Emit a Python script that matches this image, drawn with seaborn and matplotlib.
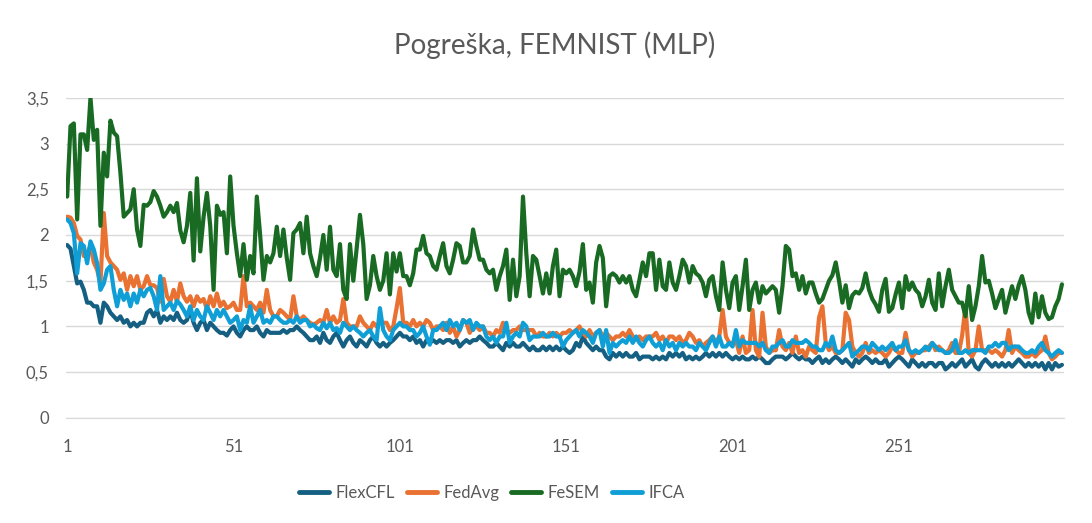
import pandas as pd
import seaborn as sns
import matplotlib.pyplot as plt

# loss per round (rounds 1..300)
flexcfl = [
    1.89, 1.85, 1.66, 1.47, 1.49, 1.40, 1.26, 1.26, 1.22, 1.22, 1.04, 1.26, 1.22, 1.15, 1.11, 1.07, 1.11, 1.04, 1.07, 1.00, 1.04, 1.00, 1.04, 1.04,
    1.15, 1.18, 1.11, 1.18, 1.04, 1.11, 1.07, 1.11, 1.07, 1.15, 1.07, 1.04, 1.07, 1.18, 1.04, 0.96, 1.04, 1.07, 0.96, 1.04, 1.00, 0.96, 0.93, 0.93, 0.90,
    0.96, 1.00, 0.93, 0.89, 0.96, 1.00, 0.96, 0.96, 1.00, 0.93, 0.89, 0.96, 0.93, 0.93, 0.93, 0.93, 0.96, 0.93, 0.96, 0.96, 1.00, 0.96, 0.93, 0.89, 0.85,
    0.85, 0.89, 0.82, 0.93, 0.85, 0.82, 0.89, 0.93, 0.85, 0.78, 0.85, 0.89, 0.82, 0.78, 0.85, 0.82, 0.78, 0.85, 0.89, 0.82, 0.78, 0.82, 0.78, 0.82, 0.85, 0.89,
    0.93, 0.89, 0.89, 0.85, 0.89, 0.82, 0.85, 0.78, 0.85, 0.82, 0.85, 0.82, 0.85, 0.82, 0.85, 0.85, 0.82, 0.85, 0.78, 0.82, 0.85, 0.82, 0.85, 0.85, 0.89,
    0.85, 0.82, 0.78, 0.78, 0.82, 0.78, 0.74, 0.82, 0.78, 0.82, 0.78, 0.78, 0.82, 0.78, 0.74, 0.78, 0.74, 0.74, 0.78, 0.74, 0.78, 0.74, 0.78, 0.74, 0.78,
    0.74, 0.71, 0.74, 0.82, 0.78, 0.89, 0.82, 0.78, 0.74, 0.78, 0.74, 0.74, 0.67, 0.64, 0.71, 0.67, 0.71, 0.67, 0.71, 0.67, 0.67, 0.71, 0.64, 0.67, 0.67, 0.67,
    0.64, 0.67, 0.64, 0.67, 0.64, 0.71, 0.67, 0.71, 0.67, 0.71, 0.64, 0.67, 0.64, 0.67, 0.64, 0.67, 0.71, 0.67, 0.71, 0.67, 0.71, 0.67, 0.71, 0.67, 0.64,
    0.67, 0.64, 0.67, 0.64, 0.64, 0.67, 0.64, 0.67, 0.64, 0.60, 0.60, 0.64, 0.67, 0.67, 0.67, 0.64, 0.67, 0.71, 0.67, 0.64, 0.67, 0.64, 0.64, 0.60, 0.64, 0.67,
    0.60, 0.64, 0.60, 0.64, 0.67, 0.64, 0.60, 0.64, 0.60, 0.56, 0.64, 0.60, 0.64, 0.67, 0.64, 0.60, 0.64, 0.60, 0.60, 0.64, 0.56, 0.60, 0.64, 0.67, 0.64,
    0.60, 0.56, 0.64, 0.60, 0.56, 0.60, 0.56, 0.60, 0.60, 0.56, 0.60, 0.60, 0.53, 0.56, 0.60, 0.56, 0.60, 0.64, 0.56, 0.60, 0.64, 0.56, 0.53, 0.60, 0.64,
    0.60, 0.56, 0.60, 0.56, 0.60, 0.56, 0.60, 0.56, 0.60, 0.64, 0.60, 0.56, 0.60, 0.56, 0.60, 0.56, 0.60, 0.53, 0.60, 0.53, 0.60, 0.56, 0.58,
]

fedavg = [
    2.20, 2.19, 2.13, 1.99, 1.95, 1.77, 1.80, 1.88, 1.70, 1.62, 1.47, 2.24, 1.77, 1.70, 1.66, 1.62, 1.51, 1.58, 1.40, 1.55, 1.44, 1.55, 1.40, 1.44,
    1.55, 1.45, 1.45, 1.42, 1.27, 1.52, 1.33, 1.27, 1.40, 1.27, 1.47, 1.33, 1.27, 1.33, 1.22, 1.33, 1.27, 1.30, 1.19, 1.33, 1.22, 1.36, 1.22, 1.27, 1.20,
    1.22, 1.26, 1.18, 1.18, 1.55, 1.22, 1.26, 1.22, 1.18, 1.26, 1.15, 1.40, 1.18, 1.11, 1.11, 1.18, 1.15, 1.11, 1.07, 1.33, 1.11, 1.07, 1.11, 1.07, 1.04,
    1.02, 1.04, 1.07, 1.04, 1.18, 1.04, 1.11, 1.04, 1.07, 1.30, 1.04, 1.00, 1.00, 1.00, 1.11, 1.04, 1.00, 0.96, 1.04, 1.00, 1.04, 1.04, 1.04, 0.96, 1.00, 1.20,
    1.42, 1.04, 1.04, 1.00, 1.07, 1.00, 1.04, 1.00, 1.07, 1.04, 0.96, 1.00, 1.00, 0.96, 1.04, 0.93, 1.00, 0.89, 0.96, 1.07, 1.04, 0.93, 1.00, 1.00, 0.96,
    1.00, 0.93, 0.93, 0.89, 0.96, 0.93, 1.04, 0.96, 0.93, 0.96, 0.96, 1.00, 0.96, 0.96, 0.96, 0.96, 0.89, 0.93, 0.89, 0.89, 0.93, 0.89, 0.93, 0.89, 0.93,
    0.93, 0.96, 0.93, 0.96, 1.00, 0.93, 0.89, 0.96, 0.89, 0.93, 0.96, 0.89, 0.93, 0.89, 0.85, 0.89, 0.89, 0.93, 0.89, 0.96, 0.89, 0.85, 0.89, 0.85, 0.89, 0.89,
    0.89, 0.93, 0.85, 0.89, 0.82, 0.89, 0.89, 0.85, 0.89, 0.82, 0.85, 0.93, 0.89, 0.82, 0.85, 0.78, 0.82, 0.85, 0.89, 0.82, 0.89, 1.18, 0.89, 0.82, 0.82,
    0.85, 0.71, 0.89, 0.71, 0.74, 1.18, 0.74, 0.67, 1.15, 0.78, 0.71, 0.74, 0.74, 0.96, 0.78, 0.74, 0.82, 0.71, 0.89, 0.71, 0.74, 0.67, 0.78, 0.74, 0.71, 1.10,
    1.22, 0.82, 0.74, 0.78, 0.71, 0.71, 0.74, 1.15, 1.07, 0.78, 0.71, 0.67, 0.71, 0.82, 0.71, 0.74, 0.71, 0.74, 0.71, 0.67, 0.71, 0.78, 0.74, 0.71, 0.71,
    0.93, 0.74, 0.67, 0.71, 0.71, 0.74, 0.74, 0.78, 0.82, 0.74, 0.78, 0.74, 0.71, 0.74, 0.82, 0.71, 0.71, 0.90, 1.22, 0.71, 0.67, 0.74, 1.00, 0.74, 0.74,
    0.74, 0.71, 0.74, 0.71, 0.67, 0.74, 0.96, 0.71, 0.78, 0.74, 0.71, 0.67, 0.67, 0.71, 0.67, 0.71, 0.74, 0.89, 0.71, 0.64, 0.67, 0.71, 0.71,
]

fesem = [
    2.42, 3.19, 3.22, 2.17, 3.10, 3.10, 2.93, 3.50, 3.04, 3.15, 2.10, 2.90, 2.64, 3.25, 3.12, 3.08, 2.68, 2.20, 2.24, 2.28, 2.50, 2.06, 1.88, 2.33,
    2.32, 2.36, 2.48, 2.42, 2.32, 2.20, 2.25, 2.32, 2.25, 2.35, 2.05, 1.92, 2.10, 2.46, 1.72, 2.62, 1.82, 2.20, 2.46, 2.10, 1.40, 2.32, 2.22, 2.25, 1.80,
    2.64, 2.10, 1.80, 1.55, 1.90, 1.51, 1.77, 1.58, 2.42, 2.00, 1.51, 1.77, 1.70, 1.80, 2.09, 1.77, 2.06, 1.75, 1.51, 2.02, 2.06, 2.13, 1.80, 2.20, 1.80,
    1.66, 1.55, 1.75, 2.00, 1.62, 2.09, 1.62, 1.55, 1.90, 1.40, 1.30, 1.90, 1.50, 1.85, 2.22, 1.90, 1.30, 1.45, 1.77, 1.55, 1.40, 1.50, 1.80, 1.35, 1.80, 1.60,
    1.80, 1.55, 1.55, 1.45, 1.58, 1.84, 1.84, 1.99, 1.80, 1.77, 1.66, 1.62, 1.77, 1.91, 1.66, 1.58, 1.73, 1.91, 1.88, 1.70, 1.70, 1.77, 2.06, 1.88, 1.73,
    1.73, 1.62, 1.58, 1.62, 1.40, 1.55, 1.66, 1.84, 1.29, 1.73, 1.33, 1.55, 2.42, 1.80, 1.33, 1.77, 1.73, 1.55, 1.36, 1.58, 1.36, 1.66, 1.84, 1.33, 1.62,
    1.58, 1.62, 1.55, 1.44, 1.60, 1.90, 1.40, 1.48, 1.26, 1.70, 1.88, 1.75, 1.22, 1.55, 1.58, 1.55, 1.48, 1.55, 1.48, 1.55, 1.40, 1.33, 1.51, 1.70, 1.55, 1.80,
    1.80, 1.40, 1.73, 1.44, 1.40, 1.70, 1.48, 1.40, 1.55, 1.73, 1.66, 1.48, 1.66, 1.58, 1.55, 1.48, 1.33, 1.51, 1.55, 1.33, 1.18, 1.70, 1.40, 1.20, 1.48,
    1.55, 1.18, 1.44, 1.73, 1.18, 1.40, 1.48, 1.26, 1.44, 1.36, 1.40, 1.44, 1.40, 1.15, 1.44, 1.88, 1.84, 1.55, 1.58, 1.40, 1.55, 1.36, 1.48, 1.48, 1.36, 1.26,
    1.30, 1.40, 1.50, 1.56, 1.70, 1.50, 1.26, 1.45, 1.20, 1.34, 1.38, 1.36, 1.42, 1.58, 1.40, 1.30, 1.24, 1.16, 1.40, 1.52, 1.16, 1.20, 1.35, 1.48, 1.20,
    1.55, 1.40, 1.48, 1.40, 1.36, 1.22, 1.33, 1.51, 1.26, 1.18, 1.58, 1.22, 1.44, 1.62, 1.40, 1.33, 1.26, 1.26, 1.11, 1.44, 1.07, 1.22, 1.44, 1.77, 1.48,
    1.50, 1.36, 1.20, 1.30, 1.40, 1.15, 1.30, 1.44, 1.30, 1.45, 1.55, 1.40, 1.15, 1.04, 1.36, 1.10, 1.33, 1.15, 1.08, 1.10, 1.22, 1.30, 1.46,
]

ifca = [
    2.17, 2.13, 2.02, 1.58, 1.91, 1.88, 1.69, 1.93, 1.84, 1.69, 1.40, 1.47, 1.62, 1.66, 1.40, 1.22, 1.40, 1.29, 1.36, 1.22, 1.36, 1.26, 1.40, 1.33,
    1.40, 1.42, 1.33, 1.18, 1.55, 1.18, 1.22, 1.26, 1.18, 1.28, 1.24, 1.18, 1.11, 1.22, 1.07, 1.18, 1.11, 1.07, 1.22, 1.15, 1.07, 1.18, 1.11, 1.18, 1.11,
    1.04, 1.07, 1.11, 0.96, 1.07, 1.04, 1.22, 1.04, 1.11, 1.18, 1.04, 1.07, 1.04, 1.11, 1.11, 1.07, 1.04, 1.04, 1.07, 1.04, 1.11, 1.04, 1.07, 1.07, 1.00,
    1.02, 0.98, 0.96, 1.04, 0.98, 1.04, 0.96, 0.98, 0.93, 1.04, 1.00, 0.96, 1.00, 0.96, 0.93, 0.89, 0.93, 0.96, 0.89, 0.85, 1.20, 0.96, 0.89, 0.85, 0.96, 1.00,
    1.04, 1.00, 1.00, 0.96, 0.96, 0.89, 0.93, 1.00, 0.89, 0.80, 0.96, 0.96, 1.00, 1.04, 0.96, 1.07, 1.00, 1.04, 0.96, 1.07, 1.04, 1.07, 0.96, 1.04, 1.00,
    1.00, 0.89, 0.85, 0.89, 0.82, 0.89, 0.89, 1.04, 0.82, 0.89, 0.93, 0.89, 1.04, 1.00, 0.85, 0.89, 0.89, 0.89, 0.93, 0.89, 0.89, 0.93, 0.89, 0.89, 0.78,
    0.85, 0.89, 0.93, 0.96, 0.89, 0.96, 0.93, 0.89, 0.82, 0.93, 0.96, 0.78, 0.96, 0.71, 0.82, 0.78, 0.82, 0.85, 0.82, 0.89, 0.82, 0.89, 0.82, 0.78, 0.85, 0.89,
    0.82, 0.78, 0.82, 0.74, 0.85, 0.78, 0.82, 0.74, 0.82, 0.78, 0.82, 0.78, 0.78, 0.74, 0.82, 0.78, 0.74, 0.82, 0.89, 0.78, 0.89, 0.78, 0.78, 0.82, 0.78,
    0.96, 0.78, 0.85, 0.82, 0.82, 0.82, 0.82, 0.78, 0.82, 0.74, 0.71, 0.78, 0.78, 0.82, 0.85, 0.78, 0.78, 0.85, 0.82, 0.82, 0.82, 0.85, 0.82, 0.78, 0.78, 0.74,
    0.74, 0.82, 0.78, 0.89, 0.74, 0.71, 0.74, 0.78, 0.82, 0.67, 0.71, 0.74, 0.78, 0.78, 0.74, 0.82, 0.78, 0.74, 0.78, 0.74, 0.78, 0.82, 0.74, 0.78, 0.78,
    0.85, 0.74, 0.71, 0.74, 0.71, 0.74, 0.78, 0.74, 0.82, 0.78, 0.74, 0.74, 0.71, 0.71, 0.74, 0.85, 0.71, 0.71, 0.74, 0.71, 0.74, 0.74, 0.74, 0.74, 0.71,
    0.78, 0.78, 0.82, 0.78, 0.82, 0.82, 0.74, 0.78, 0.78, 0.78, 0.74, 0.71, 0.71, 0.74, 0.71, 0.78, 0.82, 0.74, 0.71, 0.67, 0.71, 0.74, 0.71,
]

series = {"FlexCFL": flexcfl, "FedAvg": fedavg, "FeSEM": fesem, "IFCA": ifca}
colors = {"FlexCFL": "#156082", "FedAvg": "#E97132", "FeSEM": "#196B24", "IFCA": "#0F9ED5"}
x_ticks = [1, 51, 101, 151, 201, 251]
y_ticks = [0, 0.5, 1, 1.5, 2, 2.5, 3, 3.5]

df = pd.concat(
    [pd.DataFrame({"Round": range(1, len(v) + 1), "Loss": v, "Method": k}) for k, v in series.items()],
    ignore_index=True,
)

sns.set_style("white")
plt.rcParams["font.family"] = ["Lato", "DejaVu Sans"]

fig = plt.figure(figsize=(10.92, 5.23), dpi=100)
ax = fig.add_axes([0.060, 0.201, 0.914, 0.612])

sns.lineplot(data=df, x="Round", y="Loss", hue="Method", hue_order=list(series),
             palette=colors, linewidth=3, solid_joinstyle="round", solid_capstyle="round",
             ax=ax, legend=False)

ax.set_xlim(0.5, 300.5)
ax.set_ylim(0, 3.5)
ax.set_xticks(x_ticks)
ax.set_yticks(y_ticks)
ax.set_yticklabels([f"{t:g}".replace(".", ",") for t in y_ticks])
ax.set_xlabel("")
ax.set_ylabel("")
ax.grid(axis="y", color="#D9D9D9", linewidth=1)
ax.set_axisbelow(True)
for s in ["top", "right", "left"]:
    ax.spines[s].set_visible(False)
ax.spines["bottom"].set_color("#D9D9D9")
ax.tick_params(axis="both", length=0, colors="#595959", labelsize=12)
ax.tick_params(axis="x", pad=15)
ax.tick_params(axis="y", pad=12)

handles = [plt.Line2D([], [], color=colors[k], linewidth=3.5) for k in series]
fig.legend(handles, list(series), loc="center", bbox_to_anchor=(492 / 1092, 1 - 493 / 523), ncol=4,
           frameon=False, fontsize=12, handlelength=1.8, columnspacing=0.7,
           handletextpad=0.4, labelcolor="#595959")

fig.text(555 / 1092, 1 - 45 / 523, "Pogreška, FEMNIST (MLP)", ha="center", va="center",
         fontsize=20, color="#595959")

fig.savefig("out.png", dpi=100)
